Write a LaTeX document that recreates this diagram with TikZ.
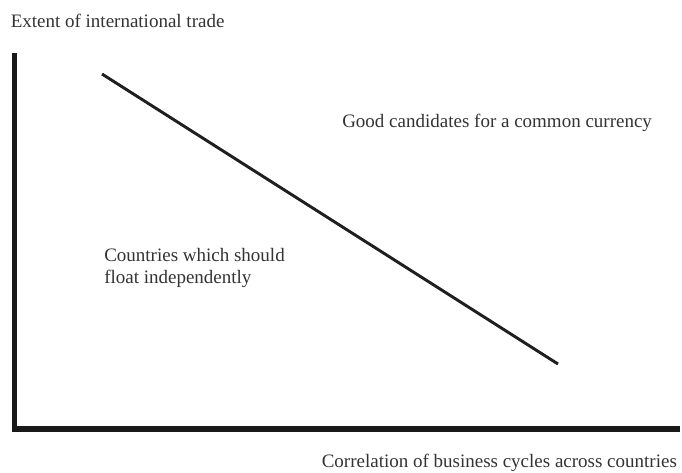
\documentclass[tikz,border=0pt]{standalone}
\usepackage{fontspec}
\setmainfont{Liberation Serif}
\usepackage{tikz}
\usetikzlibrary{positioning}
\usepackage{xcolor}
\definecolor{ink}{HTML}{333333}

\begin{document}
\begin{tikzpicture}[x=0.75pt,y=-0.75pt,
  lbl/.style={anchor=base west,inner sep=0pt,text=ink,font=\fontsize{14.25}{16.5}\selectfont,align=left}]
\useasboundingbox (0,0) rectangle (682,472);
% axes
\coordinate (top) at (14.5,53);
\coordinate (end) at (680,429);
\draw[line width=4.3pt,black!90] (top) |- (end);
% boundary line
\coordinate (a) at (102,74);
\coordinate (b) at (558,364);
\draw[line width=2.2pt,black!88] (a) -- (b);
\node[lbl] (ylab) at (10.5,27) {Extent of international trade};
\node[lbl] (xlab) at (321.5,467) {Correlation of business cycles across countries};
\node[lbl] (good) at (342,127) {Good candidates for a common currency};
\node[lbl] (float) at (104,283) {Countries which should\\float independently};
\end{tikzpicture}
\end{document}
